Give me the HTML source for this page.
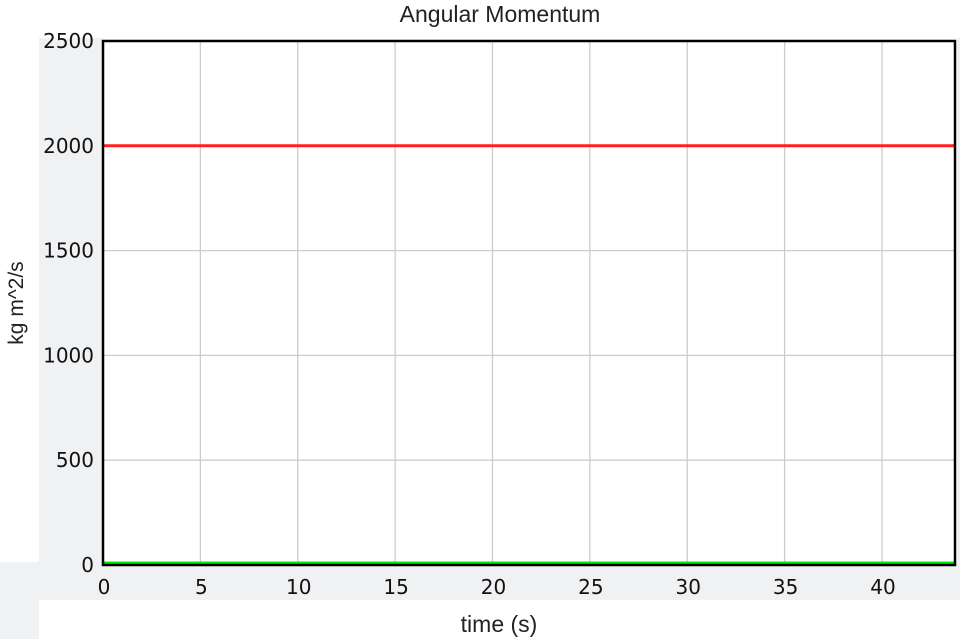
<!DOCTYPE html>
<html><head><meta charset="utf-8"><style>
html,body{margin:0;padding:0;background:#fff;}
svg{display:block;font-family:"DejaVu Sans","Liberation Sans",sans-serif;}
</style></head><body>
<svg id="chart" width="960" height="639" viewBox="0 0 960 639" xmlns="http://www.w3.org/2000/svg">
<rect x="39" y="38" width="64" height="562" fill="#f0f1f3"/>
<rect x="0" y="562" width="960" height="38" fill="#f0f1f3"/>
<rect x="0" y="600" width="39" height="39" fill="#f0f1f3"/>
<rect x="957" y="38" width="3" height="524" fill="#f0f1f3"/>
<rect x="103" y="41" width="852" height="524" fill="#fff"/>
<g id="grid"></g><g id="series"></g>
<rect x="103" y="41" width="852" height="524" fill="none" stroke="#000" stroke-width="2.5"/>
<g id="ticks"></g>
<text x="500" y="22" text-anchor="middle" font-family="Liberation Sans, sans-serif" font-size="23" fill="#222">Angular Momentum</text>
<text x="499" y="632" text-anchor="middle" font-family="Liberation Sans, sans-serif" font-size="23" fill="#222">time (s)</text>
<text transform="translate(23,303) rotate(-90)" text-anchor="middle" font-family="Liberation Sans, sans-serif" font-size="21" fill="#222">kg m^2/s</text>
</svg>
<script>
const xTicks=[0,5,10,15,20,25,30,35,40];
const yTicks=[0,500,1000,1500,2000,2500];
const seriesNames=["red","green"];
const seriesValues=[2000,0];
const seriesColors=["#ff2020","#00ee00"];
const xMax=43.75, yMax=2500;
const L=103,R=955,T=41,B=565;
const sx=v=>L+v/xMax*(R-L), sy=v=>B-v/yMax*(B-T);
const NS="http://www.w3.org/2000/svg";
const g=document.getElementById('grid'),s=document.getElementById('series'),t=document.getElementById('ticks');
function mk(tag,a,p){const e=document.createElementNS(NS,tag);for(const k in a)e.setAttribute(k,a[k]);p.appendChild(e);return e;}
xTicks.forEach(v=>{
 const l=mk('line',{x1:sx(v),x2:sx(v),y1:T,y2:B,stroke:'#ccc','stroke-width':1.3},g);
 
 
 const tx=mk('text',{x:sx(v)+1,y:594,'text-anchor':'middle','font-size':20,fill:'#111'},t);
 tx.textContent=v;
 
 
});
yTicks.forEach(v=>{
 const l=mk('line',{x1:L,x2:R,y1:sy(v),y2:sy(v),stroke:'#ccc','stroke-width':1.3},g);
 
 
 const tx=mk('text',{x:94,y:sy(v)+7,'text-anchor':'end','font-size':20,fill:'#111'},t);
 tx.textContent=v;
 
 
});
seriesValues.forEach((v,i)=>{
 const y=sy(v)-(v===0?2:0);
 const l=mk('line',{x1:sx(0),x2:sx(xMax),y1:y,y2:y,stroke:seriesColors[i],'stroke-width':3},s);
 
 
});
</script>
</body></html>
